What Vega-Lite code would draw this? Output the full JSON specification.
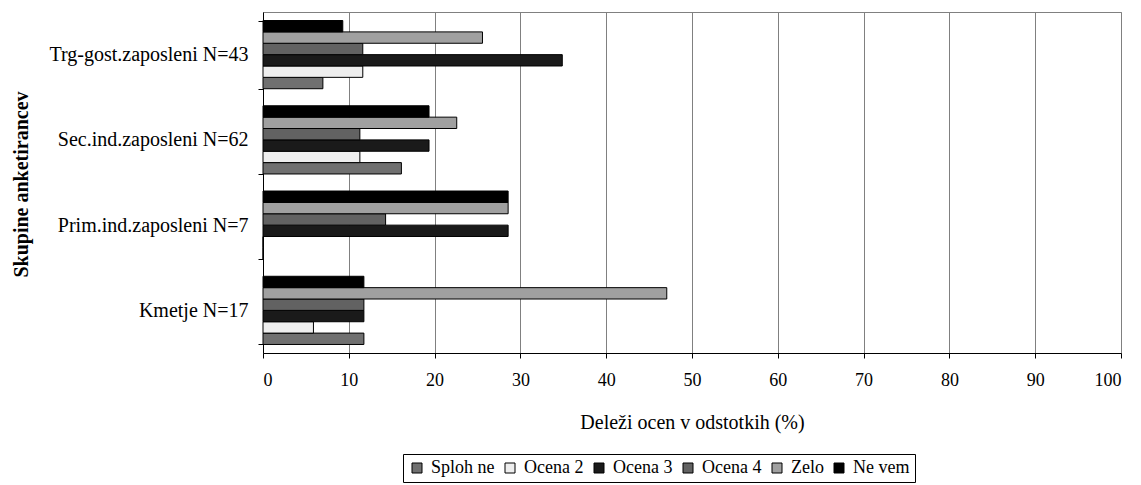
{
  "$schema": "https://vega.github.io/schema/vega-lite/v6.json",
  "width": 858,
  "height": 341,
  "autosize": "none",
  "padding": {"left": 263, "top": 12, "right": 20, "bottom": 132},
  "background": "white",
  "config": {
    "font": "Liberation Serif",
    "view": {"stroke": "#808080", "strokeWidth": 1}
  },
  "data": {
    "values": [
      {"skupina": "Trg-gost.zaposleni N=43", "ocena": "Sploh ne", "delez": 6.98},
      {"skupina": "Trg-gost.zaposleni N=43", "ocena": "Ocena 2", "delez": 11.63},
      {"skupina": "Trg-gost.zaposleni N=43", "ocena": "Ocena 3", "delez": 34.88},
      {"skupina": "Trg-gost.zaposleni N=43", "ocena": "Ocena 4", "delez": 11.63},
      {"skupina": "Trg-gost.zaposleni N=43", "ocena": "Zelo", "delez": 25.58},
      {"skupina": "Trg-gost.zaposleni N=43", "ocena": "Ne vem", "delez": 9.30},
      {"skupina": "Sec.ind.zaposleni N=62", "ocena": "Sploh ne", "delez": 16.13},
      {"skupina": "Sec.ind.zaposleni N=62", "ocena": "Ocena 2", "delez": 11.29},
      {"skupina": "Sec.ind.zaposleni N=62", "ocena": "Ocena 3", "delez": 19.35},
      {"skupina": "Sec.ind.zaposleni N=62", "ocena": "Ocena 4", "delez": 11.29},
      {"skupina": "Sec.ind.zaposleni N=62", "ocena": "Zelo", "delez": 22.58},
      {"skupina": "Sec.ind.zaposleni N=62", "ocena": "Ne vem", "delez": 19.35},
      {"skupina": "Prim.ind.zaposleni N=7", "ocena": "Sploh ne", "delez": 0},
      {"skupina": "Prim.ind.zaposleni N=7", "ocena": "Ocena 2", "delez": 0},
      {"skupina": "Prim.ind.zaposleni N=7", "ocena": "Ocena 3", "delez": 28.57},
      {"skupina": "Prim.ind.zaposleni N=7", "ocena": "Ocena 4", "delez": 14.29},
      {"skupina": "Prim.ind.zaposleni N=7", "ocena": "Zelo", "delez": 28.57},
      {"skupina": "Prim.ind.zaposleni N=7", "ocena": "Ne vem", "delez": 28.57},
      {"skupina": "Kmetje N=17", "ocena": "Sploh ne", "delez": 11.76},
      {"skupina": "Kmetje N=17", "ocena": "Ocena 2", "delez": 5.88},
      {"skupina": "Kmetje N=17", "ocena": "Ocena 3", "delez": 11.76},
      {"skupina": "Kmetje N=17", "ocena": "Ocena 4", "delez": 11.76},
      {"skupina": "Kmetje N=17", "ocena": "Zelo", "delez": 47.06},
      {"skupina": "Kmetje N=17", "ocena": "Ne vem", "delez": 11.76}
    ]
  },
  "mark": {"type": "bar", "stroke": "black", "strokeWidth": 1, "strokeOpacity": 1},
  "encoding": {
    "y": {
      "field": "skupina",
      "type": "nominal",
      "sort": ["Trg-gost.zaposleni N=43", "Sec.ind.zaposleni N=62", "Prim.ind.zaposleni N=7", "Kmetje N=17"],
      "scale": {"paddingInner": 0.2, "paddingOuter": 0.1},
      "axis": {
        "title": "Skupine anketirancev",
        "titleFont": "Liberation Serif",
        "titleFontSize": 20,
        "titleFontWeight": "bold",
        "titleColor": "black",
        "titleX": -242,
        "titleY": 172,
        "titleAngle": -90,
        "titleAlign": "center",
        "titleBaseline": "middle",
        "labelFont": "Liberation Serif",
        "labelFontSize": 20,
        "labelLimit": 0,
        "labelColor": "black",
        "labelPadding": 10,
        "tickBand": "extent",
        "tickSize": 5,
        "tickColor": "black",
        "domainColor": "black",
        "grid": false
      }
    },
    "yOffset": {
      "field": "ocena",
      "type": "nominal",
      "sort": ["Ne vem", "Zelo", "Ocena 4", "Ocena 3", "Ocena 2", "Sploh ne"],
      "scale": {"paddingInner": 0, "paddingOuter": 0}
    },
    "x": {
      "field": "delez",
      "type": "quantitative",
      "scale": {"domain": [0, 100], "nice": false},
      "axis": {
        "title": "Deleži ocen v odstotkih (%)",
        "titleFont": "Liberation Serif",
        "titleFontSize": 20,
        "titleFontWeight": "normal",
        "titleColor": "black",
        "titlePadding": 23,
        "values": [0, 10, 20, 30, 40, 50, 60, 70, 80, 90, 100],
        "labelFont": "Liberation Serif",
        "labelFontSize": 18,
        "labelColor": "black",
        "labelPadding": 13,
        "tickSize": 5,
        "tickColor": "black",
        "domainColor": "black",
        "grid": true,
        "gridColor": "#808080",
        "gridOpacity": 1
      }
    },
    "color": {
      "field": "ocena",
      "type": "nominal",
      "sort": ["Sploh ne", "Ocena 2", "Ocena 3", "Ocena 4", "Zelo", "Ne vem"],
      "scale": {
        "domain": ["Sploh ne", "Ocena 2", "Ocena 3", "Ocena 4", "Zelo", "Ne vem"],
        "range": ["#707070", "#eeeeee", "#1a1a1a", "#626262", "#a0a0a0", "#000000"]
      },
      "legend": {
        "title": null,
        "orient": "none",
        "legendX": 140,
        "legendY": 442,
        "direction": "horizontal",
        "columns": 6,
        "symbolType": "square",
        "symbolSize": 100,
        "symbolStrokeColor": "black",
        "symbolStrokeWidth": 1,
        "labelFont": "Liberation Serif",
        "labelFontSize": 18,
        "labelColor": "black",
        "labelOffset": 5,
        "columnPadding": 6,
        "strokeColor": "black",
        "padding": 5,
        "fillColor": "white"
      }
    }
  }
}
